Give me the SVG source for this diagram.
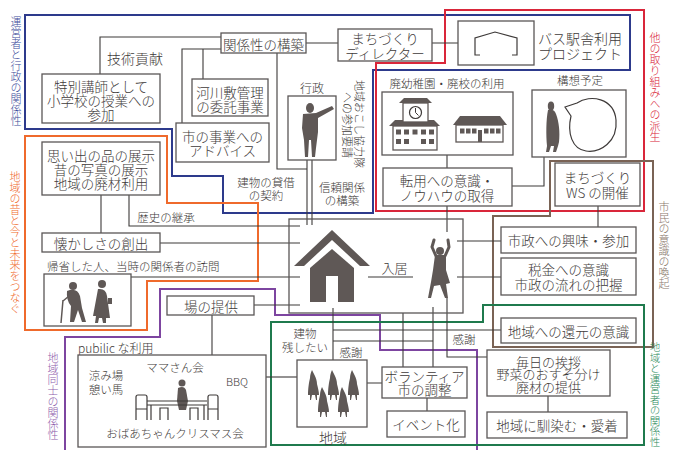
<svg xmlns="http://www.w3.org/2000/svg" xmlns:xlink="http://www.w3.org/1999/xlink" width="685" height="450" viewBox="0 0 685 450">
  <style>
    .box{fill:#fff;stroke:#5a5656;stroke-width:1.3}
    .ln{fill:none;stroke:#3d3a39;stroke-width:1.1}
    .t{font-family:"Noto Sans CJK JP","Noto Sans",sans-serif;font-weight:300;fill:#3e3a39;font-size:13.5px;text-anchor:middle;dominant-baseline:central}
    .s{font-size:11.5px}
    .st{text-anchor:start}
    .v{font-family:"Noto Sans CJK JP","Noto Sans",sans-serif;font-weight:300;font-size:11px;writing-mode:vertical-rl;text-anchor:start}
    .sil{fill:#5f5856}
    .zone{fill:none;stroke-width:2}
    .ico{fill:none;stroke:#3e3a39;stroke-width:1.2}
  </style>
  <defs>
    <!-- hooded robed figure used for the local residents -->
    <path id="monk" d="M4,0 L6.5,5 C8,8 9,11 9,14 C10,18 11,22 11,25 L9,25 L9,30 L8,30 L7,25 L4,25 L3,30 L2,30 L2,25 L0,25 C0,19 1,12 2,8 C2,5 3,2 4,0 Z"/>
  </defs>
  <rect width="685" height="450" fill="#fff"/>

  <!-- relationship zones -->
  <g id="zones">
    <polygon class="zone" stroke="#2d3a8c" points="25,15 630,15 630,70 373,70 373,213 223,213 223,176 172,176 172,129 25,129"/>
    <polygon class="zone" stroke="#d9263a" points="445,10 644,10 644,211 376,211 376,63 445,63"/>
    <polygon class="zone" stroke="#ef6a2c" points="25,136 167,136 167,203 258,203 258,281 147,281 147,330 25,330"/>
    <polygon class="zone" stroke="#7a6355" points="550,161 653,161 653,347 493,347 493,216 550,216"/>
    <polyline class="zone" stroke="#7d45a0" points="65,450 65,337 160,337 160,289 275,289 275,315 380,315 380,350 477,350 477,450"/>
    <polygon class="zone" stroke="#1f7a4d" points="271,322 483,322 483,305 644,305 644,445 271,445"/>
    <text class="v" x="16" y="16" fill="#3c4b9b">運営者と行政の関係性</text>
    <text class="v" x="15" y="171" fill="#ef6a2c">地域の昔と今と未来をつなぐ</text>
    <text class="v" x="53" y="352" fill="#8d5cab">地域同士の関係性</text>
    <text class="v" x="655" y="32" fill="#d9263a">他の取り組みへの派生</text>
    <text class="v" x="664" y="201" fill="#8a786c">市民の意識の喚起</text>
    <text class="v" x="655" y="342" fill="#2b8a5a" style="font-size:10.5px">地域と運営者の関係性</text>
  </g>

  <!-- connectors -->
  <g id="connectors" class="ln">
    <path d="M221,37 H100 V74"/>
    <path d="M221,49 H182 V123 M203,49 V79"/>
    <path d="M306,43 H338 M432,43 H458"/>
    <path d="M277,53 V169 H307"/>
    <path d="M307,160 V225 M312,160 V225"/>
    <path d="M101,195 V233"/>
    <path d="M129,195 V226 H300"/>
    <path d="M160,243 H300"/>
    <path d="M131,277 H300"/>
    <path d="M254,305 H300"/>
    <path d="M212,315 V355"/>
    <path d="M266,377 H297"/>
    <path d="M447,155 V168 M447,206 V232"/>
    <path d="M512,186 H544 V157"/>
    <path d="M598,206 V227"/>
    <path d="M457,241 H501 M457,277 H501"/>
    <path d="M333,308 V360 M333,330 H501 M333,341 H433"/>
    <path d="M403,313 V367 M433,307 V367"/>
    <path d="M447,298 V357 H487"/>
    <path d="M367,383 H382 M427,398 V411 M548,396 V412"/>
    <path d="M368,277 H413"/>
  </g>

  <!-- edge labels -->
  <g id="edge-labels">
    <text class="t" x="135" y="58" style="font-size:14px">技術貢献</text>
    <text class="t s" x="166" y="217">歴史の継承</text>
    <text class="t s" x="266" y="182">建物の貸借</text>
    <text class="t s" x="266" y="195">の契約</text>
    <text class="t s" x="342" y="187">信頼関係</text>
    <text class="t s" x="342" y="200">の構築</text>
    <text class="t s" x="305" y="333">建物</text>
    <text class="t s" x="305" y="347">残したい</text>
    <text class="t s" x="351" y="352">感謝</text>
    <text class="t s" x="464" y="339">感謝</text>
    <text class="t" x="394.5" y="267" style="font-size:13px">入居</text>
    <g transform="translate(360,124) rotate(90)"><text class="t" style="font-size:11px">地域おこし協力隊</text></g>
    <g transform="translate(348,125) rotate(90)"><text class="t" style="font-size:11px">への参加要請</text></g>
  </g>

  <g id="n-kankeisei">
    <rect class="box" x="221" y="33" width="85" height="20"/>
    <text class="t" x="263.5" y="43.5">関係性の構築</text>
  </g>
  <g id="n-director">
    <rect class="box" x="338" y="29" width="94" height="32"/>
    <text class="t" x="385" y="38">まちづくり</text>
    <text class="t" x="385" y="52.5">ディレクター</text>
  </g>
  <g id="n-bus">
    <rect class="box" x="458" y="21" width="76" height="44"/>
    <polyline class="ico" points="480,55 475,55 475,38 495,32 517,38 517,55 512,55"/>
    <text class="t st" x="538" y="38" style="font-size:14px">バス駅舎利用</text>
    <text class="t st" x="538" y="53" style="font-size:14px">プロジェクト</text>
  </g>
  <g id="n-tokubetsu">
    <rect class="box" x="42" y="74" width="118" height="49"/>
    <text class="t" x="101" y="86">特別講師として</text>
    <text class="t" x="101" y="100">小学校の授業への</text>
    <text class="t" x="101" y="113.5">参加</text>
  </g>
  <g id="n-kasen">
    <rect class="box" x="192" y="79" width="76" height="37"/>
    <text class="t" x="230" y="91.5">河川敷管理</text>
    <text class="t" x="230" y="105.5">の委託事業</text>
  </g>
  <g id="n-shijigyo">
    <rect class="box" x="176" y="123" width="93" height="39"/>
    <text class="t" x="222.5" y="136">市の事業への</text>
    <text class="t" x="222.5" y="150">アドバイス</text>
  </g>
  <g id="n-gyosei">
    <text class="t" x="312" y="87" style="font-size:12px">行政</text>
    <rect class="box" x="288" y="96" width="48" height="64"/>
    <ellipse class="sil" cx="310" cy="108" rx="4" ry="5"/>
    <path class="sil" d="M303,114 L316,113 L332,106 L334,109 L318,118 L318,132 L316,148 L315,157 L312,157 L311,140 L309,140 L308,157 L305,157 L304,140 L302,128 Z"/>
  </g>
  <g id="n-haiyochien">
    <text class="t s" x="447" y="83">廃幼稚園・廃校の利用</text>
    <rect class="box" x="382" y="92" width="131" height="63"/>
    <polygon class="sil" points="389,126 395,120 434,120 440,126"/>
    <rect x="393" y="126" width="44" height="24" fill="#fff" stroke="#5f5856" stroke-width="1.3"/>
    <rect x="403" y="103" width="25" height="19" fill="#fff" stroke="#5f5856" stroke-width="1.3"/>
    <polygon class="sil" points="399,103 404,98 427,98 432,103"/>
    <circle cx="415.5" cy="112.5" r="6" fill="#fff" stroke="#3e3a39" stroke-width="1.2"/>
    <path d="M415.5,112.5 V108 M415.5,112.5 L418.5,115.5" stroke="#3e3a39" stroke-width="1"/>
    <g class="sil">
      <rect x="396" y="129.5" width="5" height="5"/><rect x="404" y="129.5" width="5" height="5"/><rect x="412.5" y="129.5" width="5" height="5"/><rect x="421" y="129.5" width="5" height="5"/><rect x="429" y="129.5" width="5" height="5"/>
      <rect x="396" y="139" width="5" height="5"/><rect x="404" y="139" width="5" height="5"/><rect x="421" y="139" width="5" height="5"/><rect x="429" y="139" width="5" height="5"/>
    </g>
    <polygon class="sil" points="453,125 460,116 500,116 507,125"/>
    <rect x="456" y="125" width="47" height="17" fill="#fff" stroke="#5f5856" stroke-width="1.3"/>
    <g class="sil">
      <rect x="460" y="128.5" width="4.5" height="5"/><rect x="466" y="128.5" width="4.5" height="5"/><rect x="472" y="128.5" width="4.5" height="5"/>
      <rect x="478" y="130" width="4" height="12"/>
      <rect x="484" y="128.5" width="4.5" height="5"/><rect x="490" y="128.5" width="4.5" height="5"/><rect x="496" y="128.5" width="4.5" height="5"/>
    </g>
  </g>
  <g id="n-tenyo">
    <rect class="box" x="383" y="168" width="129" height="38"/>
    <text class="t" x="447" y="179.5">転用への意識・</text>
    <text class="t" x="447" y="195">ノウハウの取得</text>
  </g>
  <g id="n-koso">
    <text class="t s" x="580" y="80">構想予定</text>
    <rect class="box" x="532" y="90" width="94" height="67"/>
    <ellipse class="sil" cx="551" cy="106" rx="3.2" ry="4.5"/>
    <path class="sil" d="M548,110 C552,109 555,110 556,114 C559,122 560,132 559,142 L558,146 L556,152 L553,152 L554,146 L551,146 L549,152 L546,152 L547,146 C546,135 546,120 548,110 Z"/>
    <path d="M577,103 C590,94 614,98 616,120 C618,142 600,153 586,151 C572,149 567,133 571,116 L565,107 Z" fill="#fff" stroke="#3e3a39" stroke-width="1.2"/>
  </g>
  <g id="n-ws">
    <rect class="box" x="555" y="163" width="85" height="43"/>
    <text class="t" x="597.5" y="177">まちづくり</text>
    <text class="t" x="597.5" y="192">WS の開催</text>
  </g>
  <g id="n-shisei">
    <rect class="box" x="501" y="227" width="135" height="26"/>
    <text class="t" x="568.5" y="240">市政への興味・参加</text>
  </g>
  <g id="n-zeikin">
    <rect class="box" x="501" y="258" width="135" height="37"/>
    <text class="t" x="568.5" y="269">税金への意識</text>
    <text class="t" x="568.5" y="284">市政の流れの把握</text>
  </g>
  <g id="n-kangen">
    <rect class="box" x="501" y="318" width="135" height="25"/>
    <text class="t" x="568.5" y="330.5">地域への還元の意識</text>
  </g>
  <g id="n-mainichi">
    <rect class="box" x="487" y="350" width="123" height="46"/>
    <text class="t" x="548.5" y="361" style="font-size:13px">毎日の挨拶</text>
    <text class="t" x="548.5" y="373.5" style="font-size:13px">野菜のおすそ分け</text>
    <text class="t" x="548.5" y="386" style="font-size:13px">廃材の提供</text>
  </g>
  <g id="n-najimu">
    <rect class="box" x="487" y="412" width="140" height="26"/>
    <text class="t" x="557" y="425">地域に馴染む・愛着</text>
  </g>
  <g id="n-omoide">
    <rect class="box" x="42" y="142" width="118" height="53"/>
    <text class="t" x="101" y="155">思い出の品の展示</text>
    <text class="t" x="101" y="169">昔の写真の展示</text>
    <text class="t" x="101" y="183">地域の廃材利用</text>
  </g>
  <g id="n-natsukashisa">
    <rect class="box" x="42" y="233" width="118" height="19"/>
    <text class="t" x="101" y="243">懐かしさの創出</text>
  </g>
  <g id="n-kisei">
    <text class="t s st" x="47" y="266">帰省した人、当時の関係者の訪問</text>
    <rect class="box" x="44" y="274" width="87" height="52"/>
    <circle class="sil" cx="73" cy="286" r="4"/>
    <path class="sil" d="M67,291 Q77,287 80,296 L82,308 L86,322 L82,322 L78,310 L74,322 L70,322 L71,306 Q66,300 67,291 Z"/>
    <path d="M69,296 L63,301 M63,300 L61,323" stroke="#5f5856" stroke-width="1.5" fill="none"/>
    <circle class="sil" cx="102" cy="284" r="4"/>
    <path class="sil" d="M98,289 Q106,288 107,296 L110,318 L106,318 L106,323 L103,323 L102,318 L99,318 L98,323 L95,323 L96,316 L93,316 Q96,300 98,289 Z"/>
    <rect class="sil" x="108" y="298" width="4" height="6"/>
  </g>
  <g id="n-ba">
    <rect class="box" x="167" y="296" width="87" height="19"/>
    <text class="t" x="211" y="306">場の提供</text>
  </g>
  <g id="n-public">
    <text class="t st" x="78" y="347" style="font-size:12px">pubilic な利用</text>
    <rect class="box" x="78" y="355" width="188" height="92"/>
    <text class="t s" x="106" y="375">涼み場</text>
    <text class="t s" x="106" y="389">憩い馬</text>
    <text class="t s" x="175" y="367">ママさん会</text>
    <text class="t" x="237" y="381" style="font-size:11px">BBQ</text>
    <text class="t s" x="175" y="433">おばあちゃんクリスマス会</text>
    <circle class="sil" cx="182" cy="383" r="3.5"/>
    <path class="sil" d="M178,388 Q184,385 186,390 L188,401 L186,410 L179,410 L177,401 Z"/>
    <path class="ico" d="M136,420 V397 Q136,395 138,395 H145 Q147,395 147,397 V420 M136,409 H147 M147,401 H207 M147,405 H207 M151,405 V420 M204,405 V420 M160,420 V408 H168 V420 M190,420 V408 H198 V420 M208,420 V397 Q208,395 210,395 H216 Q218,395 218,397 V420 M208,409 H218"/>
  </g>
  <g id="n-chiiki">
    <rect class="box" x="297" y="360" width="70" height="67"/>
    <g class="sil">
      <use xlink:href="#monk" x="308" y="370"/>
      <use xlink:href="#monk" x="328" y="370"/>
      <use xlink:href="#monk" x="348" y="370"/>
      <use xlink:href="#monk" x="318" y="387"/>
      <use xlink:href="#monk" x="338" y="387"/>
    </g>
    <text class="t" x="333" y="437" style="font-size:14px">地域</text>
  </g>
  <g id="n-volunteer">
    <rect class="box" x="382" y="367" width="85" height="31"/>
    <text class="t" x="424.5" y="376">ボランティア</text>
    <text class="t" x="424.5" y="389">市の調整</text>
  </g>
  <g id="n-event">
    <rect class="box" x="387" y="411" width="78" height="26"/>
    <text class="t" x="426" y="424">イベント化</text>
  </g>
  <g id="n-center">
    <rect x="289" y="219" width="174" height="94" fill="none" stroke="#5a5656" stroke-width="1.3"/>
    <polygon class="sil" points="294,266 332,230 370,266 360,266 332,240 304,266"/>
    <polygon class="sil" points="310,302 310,268 332,249 354,268 354,302"/>
    <rect x="326" y="276" width="12" height="26" fill="#fff"/>
    <circle class="sil" cx="440" cy="251" r="4"/>
    <path d="M434,240 L432,247 L436,256 M448,240 L449,247 L445,256" stroke="#5f5856" stroke-width="3" stroke-linecap="round" fill="none"/>
    <path class="sil" d="M435,255 L446,255 L446,270 L450,283 L446,284 L448,298 L445,298 L440,285 L434,286 L431,298 L428,298 L431,282 L433,270 Z"/>
  </g>
</svg>
